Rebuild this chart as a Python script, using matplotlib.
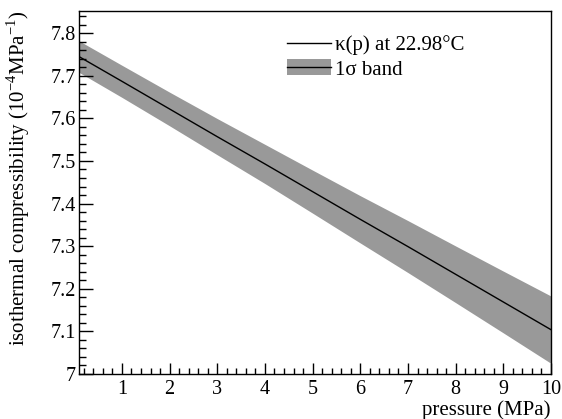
import numpy as np
import matplotlib.pyplot as plt
from matplotlib.lines import Line2D
from matplotlib.patches import Patch
from matplotlib.ticker import MultipleLocator

plt.rcParams['font.family'] = ['Liberation Serif', 'DejaVu Serif']
plt.rcParams['mathtext.fontset'] = 'custom'
plt.rcParams['mathtext.rm'] = 'Liberation Serif'

# data
pressure = [0.1, 1, 2, 3, 4, 5, 6, 7, 8, 9, 10]
kappa = [7.745, 7.687, 7.622, 7.557, 7.493, 7.428, 7.363, 7.299, 7.234, 7.169, 7.104]
sigma = [0.037, 0.0377, 0.0395, 0.0425, 0.046, 0.0505, 0.0555, 0.061, 0.0665, 0.0725, 0.079]

p = np.array(pressure)
k = np.array(kappa)
s = np.array(sigma)

fig = plt.figure(figsize=(5.62, 4.19), dpi=100)
ax = fig.add_axes([79 / 562, 1 - 374 / 419, 472 / 562, 363 / 419])

band_col = '#999999'
ax.fill_between(p, k - s, k + s, color=band_col, lw=0)
ax.plot(p, k, color='black', lw=1.0)

ax.set_xlim(0.1, 10)
ax.set_ylim(7.0, 7.852)

ax.xaxis.set_major_locator(MultipleLocator(1))
ax.xaxis.set_minor_locator(MultipleLocator(0.2))
ax.yaxis.set_major_locator(MultipleLocator(0.1))
ax.yaxis.set_minor_locator(MultipleLocator(0.02))
ax.set_xticks([1, 2, 3, 4, 5, 6, 7, 8, 9, 10])
ax.set_xticklabels(['1', '2', '3', '4', '5', '6', '7', '8', '9', '10'])
ax.set_yticks([7.0, 7.1, 7.2, 7.3, 7.4, 7.5, 7.6, 7.7, 7.8])
ax.set_yticklabels(['7', '7.1', '7.2', '7.3', '7.4', '7.5', '7.6', '7.7', '7.8'])

ax.tick_params(axis='both', which='both', direction='in', top=False, right=False,
               labelsize=14.5, width=1.0)
ax.tick_params(axis='x', which='major', length=8, pad=4.3)
ax.tick_params(axis='x', which='minor', length=4)
ax.tick_params(axis='y', which='major', length=10, pad=2.5)
ax.tick_params(axis='y', which='minor', length=5)
for sp in ax.spines.values():
    sp.set_linewidth(1.0)

ax.set_xlabel('pressure (MPa)', fontsize=15, loc='right')
ax.xaxis.set_label_coords(1.0, -0.073)
ax.set_ylabel(r'isothermal compressibility (10$^{-4}$MPa$^{-1}$)', fontsize=15, loc='top')
ax.yaxis.set_label_coords(-0.1, 1.0)

handles = [Line2D([], [], color='black', lw=1.0),
           (Patch(facecolor=band_col, lw=0), Line2D([], [], color='black', lw=1.0))]
labels = [u'\u03ba(p) at 22.98\u00b0C', u'1\u03c3 band']
leg = ax.legend(handles, labels, loc='upper left', frameon=False, fontsize=15,
                bbox_to_anchor=(287 / 562, 1 - 35 / 419), bbox_transform=fig.transFigure,
                handlelength=2.1, handleheight=0.8, handletextpad=0.2, labelspacing=0.2,
                borderpad=0, borderaxespad=0)

fig.savefig('out.png', dpi=100)
